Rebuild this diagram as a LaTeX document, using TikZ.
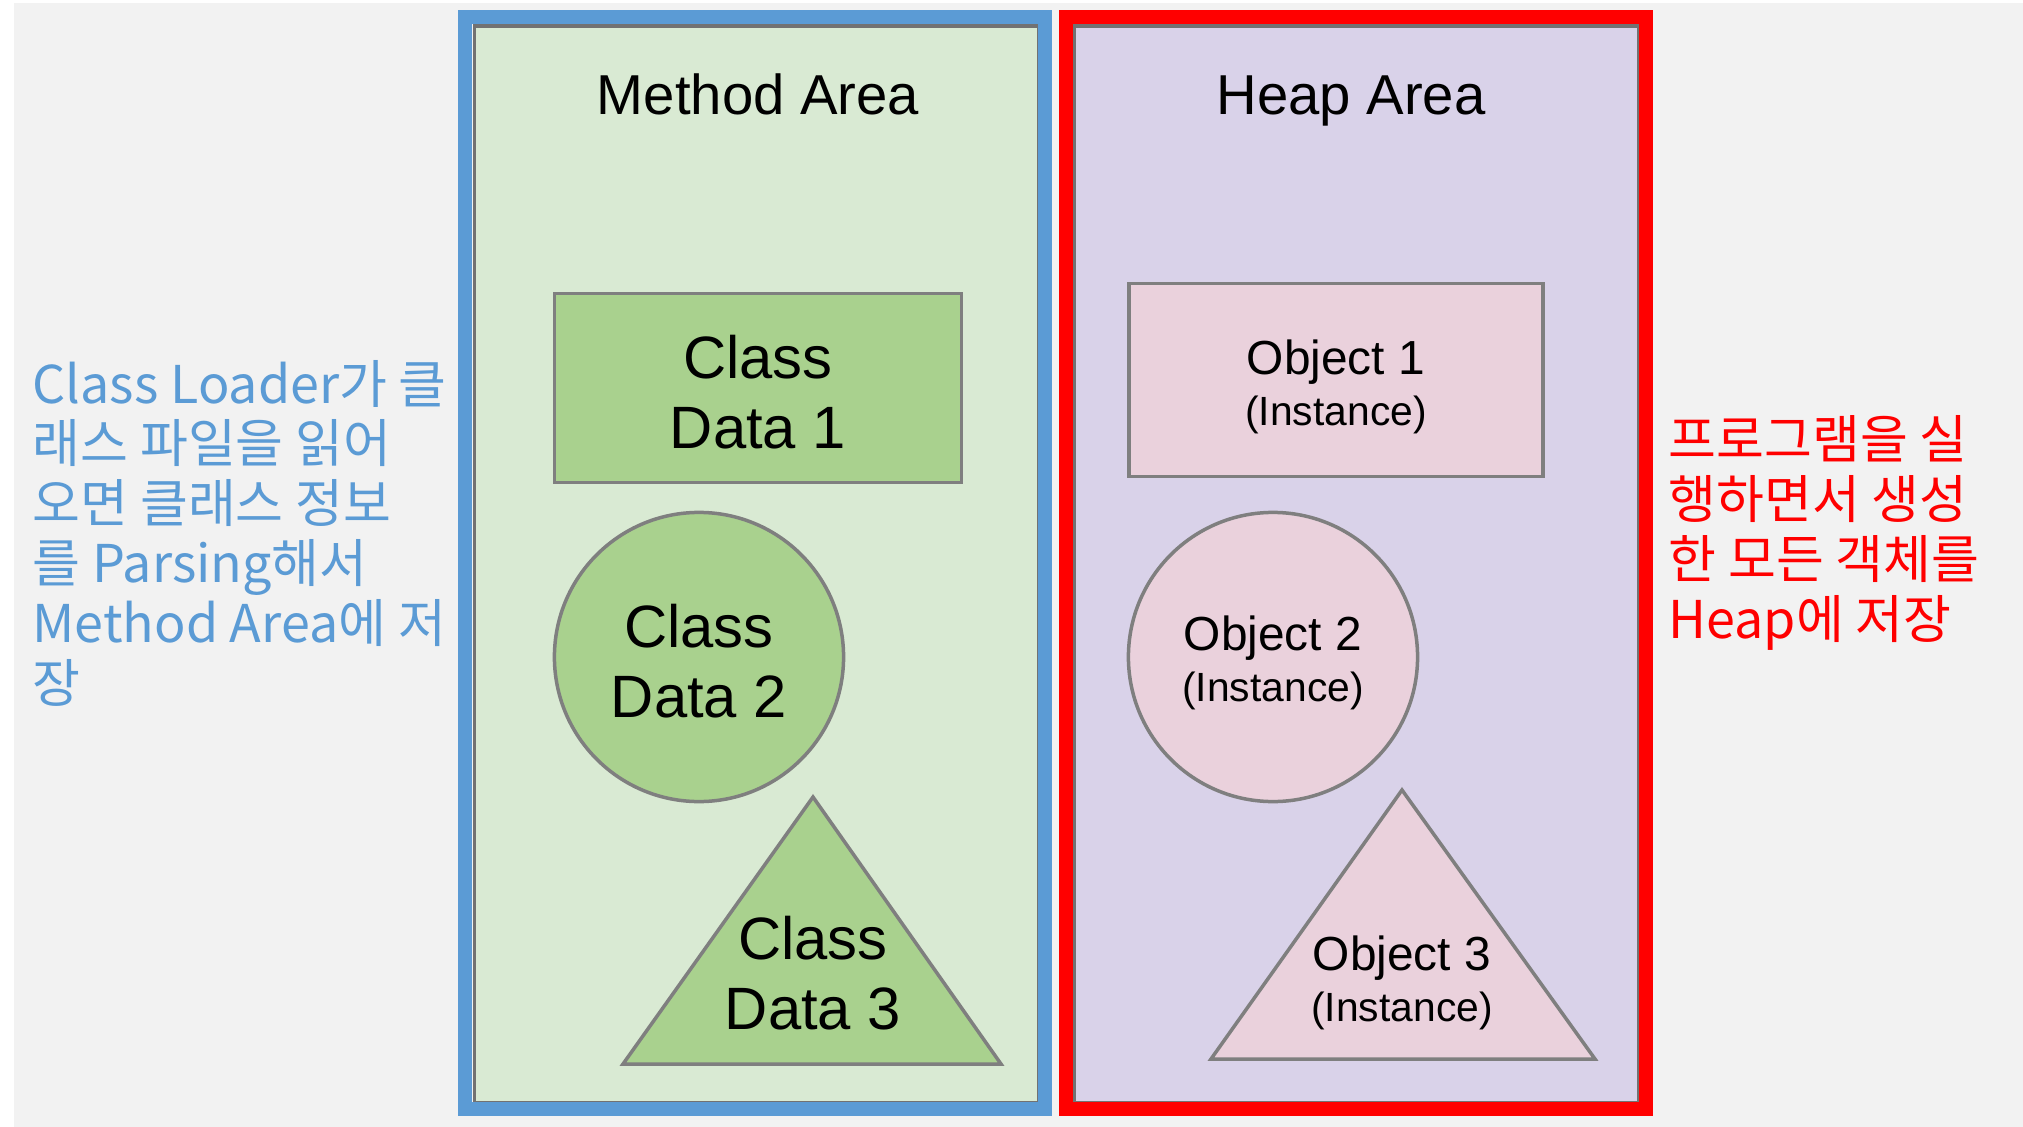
\documentclass[tikz,border=0pt]{standalone}
\usepackage{fontspec}
\setmainfont{Liberation Sans}
\newfontfamily\kr{Noto Sans CJK KR}
\usetikzlibrary{positioning}
\definecolor{bg}{HTML}{F2F2F2}
\definecolor{mblue}{HTML}{5B9BD5}
\definecolor{hred}{HTML}{FF0000}
\definecolor{mpanel}{HTML}{D9EAD3}
\definecolor{hpanel}{HTML}{D9D2E9}
\definecolor{cfill}{HTML}{A9D18E}
\definecolor{ofill}{HTML}{EAD1DC}
\definecolor{edge}{HTML}{7F7F7F}
\newcommand\instsz{\fontsize{11.6}{14}\selectfont}
\begin{document}
\begin{tikzpicture}[x=0.01cm,y=-0.01cm,
  shp/.style={draw=edge,line width=0.035cm},
  panel/.style={draw=edge!90!black,line width=0.03cm},
  frame/.style={line width=0.14cm},
  head/.style={anchor=base,font=\fontsize{16}{19}\selectfont},
  cls/.style={align=center,inner sep=0pt,font=\fontsize{17}{20}\selectfont},
  obj/.style={align=center,inner sep=0pt,font=\fontsize{13.6}{14.5}\selectfont},
  note/.style={align=left,inner sep=0pt,font=\kr\fontsize{14.8}{17}\selectfont}]
\useasboundingbox (0,0) rectangle (2023,1127);
\fill[bg] (14,3) rectangle (2023,1127);
% method area
\draw[panel,fill=mpanel] (474,26) rectangle (1038,1102);
\draw[frame,mblue] (465,17) rectangle (1045,1109);
\node[head] (ma) at (758,114) {Method Area};
\node[shp,fill=cfill,minimum width=4.07cm,minimum height=1.89cm] (cd1) at (758,388) {};
\node[cls] (cd1t) at (758,392) {Class\\Data 1};
\node[shp,fill=cfill,circle,minimum size=2.89cm] (cd2) at (699,657) {};
\node[cls] (cd2t) at (699,661) {Class\\Data 2};
\draw[shp,fill=cfill] (813,797) coordinate (cd3) -- (1001,1064) -- (623,1064) -- cycle;
\node[cls] (cd3t) at (813,973) {Class\\Data 3};
% heap area
\draw[panel,fill=hpanel] (1074,26) rectangle (1638,1102);
\draw[frame,hred] (1066,17) rectangle (1646,1109);
\node[head] (ha) at (1351,114) {Heap Area};
\node[shp,fill=ofill,minimum width=4.14cm,minimum height=1.93cm] (o1) at (1336,380) {};
\node[obj] (o1t) at (1336,387) {Object 1\\{\instsz(Instance)}};
\node[shp,fill=ofill,circle,minimum size=2.89cm] (o2) at (1273,657) {};
\node[obj] (o2t) at (1273,663) {Object 2\\{\instsz(Instance)}};
\draw[shp,fill=ofill] (1402,790) coordinate (o3) -- (1595,1059) -- (1211,1059) -- cycle;
\node[obj] (o3t) at (1402,983) {Object 3\\{\instsz(Instance)}};
% notes
\node[note,text=mblue,anchor=west] (ln) at (32,533) {Class Loader가 클\\래스 파일을 읽어\\오면 클래스 정보\\를 Parsing해서\\Method Area에 저\\장};
\node[note,text=hred,anchor=west] (rn) at (1668,533) {프로그램을 실\\행하면서 생성\\한 모든 객체를\\Heap에 저장};
\end{tikzpicture}
\end{document}
